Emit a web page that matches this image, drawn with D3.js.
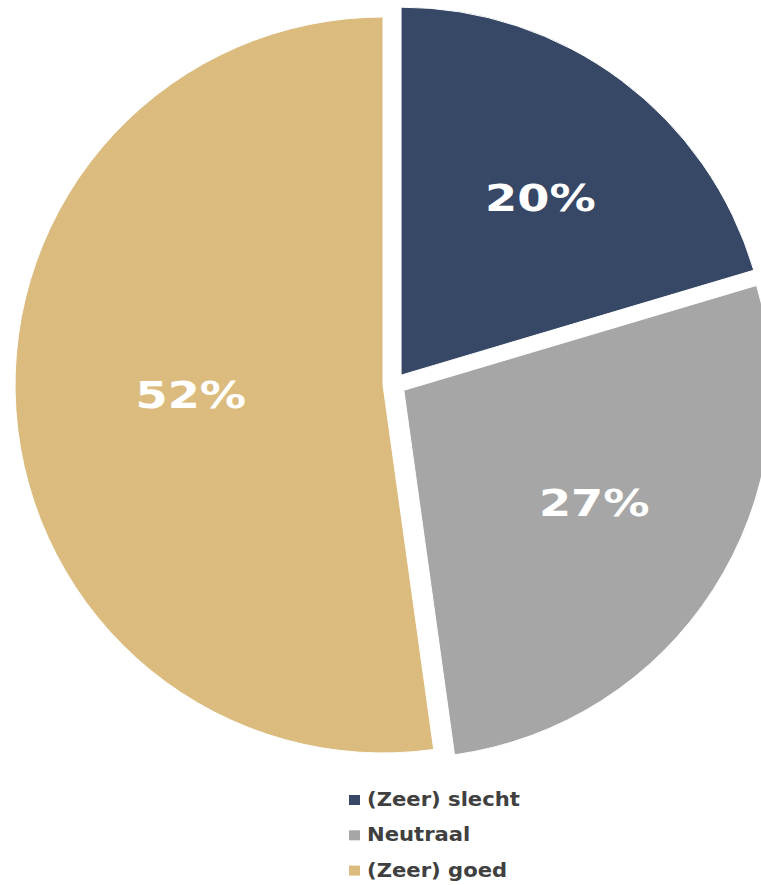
<!DOCTYPE html>
<html>
<head>
<meta charset="utf-8">
<script src="https://cdn.jsdelivr.net/npm/d3@7"></script>
<style>
  html, body { margin: 0; padding: 0; background: #ffffff; }
  svg { display: block; }
</style>
</head>
<body>
<svg id="chart" width="761" height="885"></svg>
<script>
// Survey answer shares (percent)
const categories = ["(Zeer) slecht", "Neutraal", "(Zeer) goed"];
const shares = [20.4, 27.4, 52.2];
const colors = ["#374766", "#a6a6a6", "#dbbc7e"];

const width = 761, height = 885;
const cx = 394.3, cy = 384.2;       // pie centre
const radius = 368;
const explode = 11.3;               // outward shift of each slice

const svg = d3.select("#chart");

const pie = d3.pie().sort(null).value(d => d.value);
const arcs = pie(categories.map((c, i) => ({ name: c, value: shares[i], color: colors[i] })));

const arc = d3.arc().innerRadius(0).outerRadius(radius);

// Distance of a value label from the slice tip: a blend of the sector's
// area centroid and a fixed fraction of the radius.
function labelDistance(d) {
  const half = (d.endAngle - d.startAngle) / 2;
  const centroid = (2 * radius * Math.sin(half)) / (3 * half);
  return 0.44 * centroid + 0.56 * 0.626 * radius;
}

const g = svg.append("g").attr("transform", `translate(${cx},${cy})`);

const slice = g.selectAll("g.slice")
  .data(arcs)
  .join("g")
  .attr("class", "slice")
  .attr("transform", d => {
    const mid = (d.startAngle + d.endAngle) / 2;
    return `translate(${explode * Math.sin(mid)},${-explode * Math.cos(mid)})`;
  });

slice.append("path")
  .attr("d", arc)
  .attr("fill", d => d.data.color)
  .attr("stroke", "#ffffff")
  .attr("stroke-width", 1);

slice.append("text")
  .attr("transform", d => {
    const mid = (d.startAngle + d.endAngle) / 2;
    const r = labelDistance(d);
    const x = r * Math.sin(mid) + 2;
    const y = -r * Math.cos(mid) * 0.95 - 3;
    return `translate(${x},${y}) scale(1.25,1)`;
  })
  .attr("text-anchor", "middle")
  .attr("dy", "0.365em")
  .attr("fill", "#ffffff")
  .style("font-family", "'DejaVu Sans', Verdana, sans-serif")
  .style("font-weight", "bold")
  .style("font-size", "37px")
  .text(d => d3.format(".0f")(d.data.value) + "%");

// Legend
const legend = svg.append("g").attr("transform", "translate(349,806)");
const row = legend.selectAll("g")
  .data(categories)
  .join("g")
  .attr("transform", (d, i) => `translate(0,${i * 35.3})`);

row.append("rect")
  .attr("x", 0).attr("y", -11)
  .attr("width", 11).attr("height", 10)
  .attr("fill", (d, i) => colors[i]);

row.append("text")
  .attr("transform", "translate(18,0) scale(1.057,1)")
  .attr("fill", "#404040")
  .style("font-family", "'DejaVu Sans', Verdana, sans-serif")
  .style("font-weight", "bold")
  .style("font-size", "20px")
  .text(d => d);
</script>
</body>
</html>
